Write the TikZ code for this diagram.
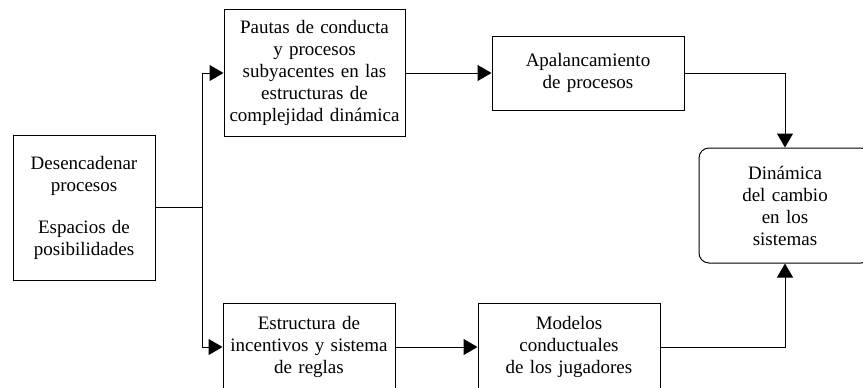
\documentclass[tikz,border=0pt]{standalone}
\usepackage{fontspec}
\setmainfont{Liberation Serif}
\usetikzlibrary{arrows.meta,positioning}
\tikzset{
  caja/.style={draw=black, line width=0.5pt, align=center, inner sep=0pt, font=\fontsize{9.5}{11}\selectfont},
  flecha/.style={-{Triangle[length=7pt,width=8pt]}, line width=0.5pt},
  linea/.style={line width=0.5pt}
}

\begin{document}
\begin{tikzpicture}
\useasboundingbox (0,0) rectangle (431.5pt,-193.5pt);
\node[caja, text width=71pt, minimum height=72.5pt] (inicio) at (42pt,-103.75pt) {Desencadenar\\procesos\\[10pt]Espacios de\\posibilidades};
\node[caja, text width=90.5pt, minimum height=63.5pt] (pautas) at (157.25pt,-36.5pt) {Pautas de conducta\\y procesos\\subyacentes en las\\estructuras de\\complejidad dinámica};
\node[caja, text width=96pt, minimum height=37pt, right=43pt of pautas] (apalanca) {Apalancamiento\\de procesos};
\node[caja, text width=86pt, minimum height=44pt] (estructura) at (154.5pt,-173.5pt) {Estructura de\\incentivos y sistema\\de reglas};
\node[caja, text width=91pt, minimum height=44pt, right=41pt of estructura] (modelos) {Modelos\\conductuales\\de los jugadores};
\node[caja, rounded corners=5pt, text width=86pt, minimum height=57.5pt] (dinamica) at (392.5pt,-102.75pt) {Dinámica\\del cambio\\en los\\sistemas};
\coordinate[right=23.5pt of inicio.east] (split);
\draw[linea] (inicio) -- (split);
\draw[flecha] (split) |- (pautas);
\draw[flecha] (split) |- (estructura);
\draw[flecha] (pautas) -- (apalanca);
\draw[flecha] (estructura) -- (modelos);
\draw[flecha] (apalanca) -| (dinamica);
\draw[flecha] (modelos) -| (dinamica);
\end{tikzpicture}
\end{document}
